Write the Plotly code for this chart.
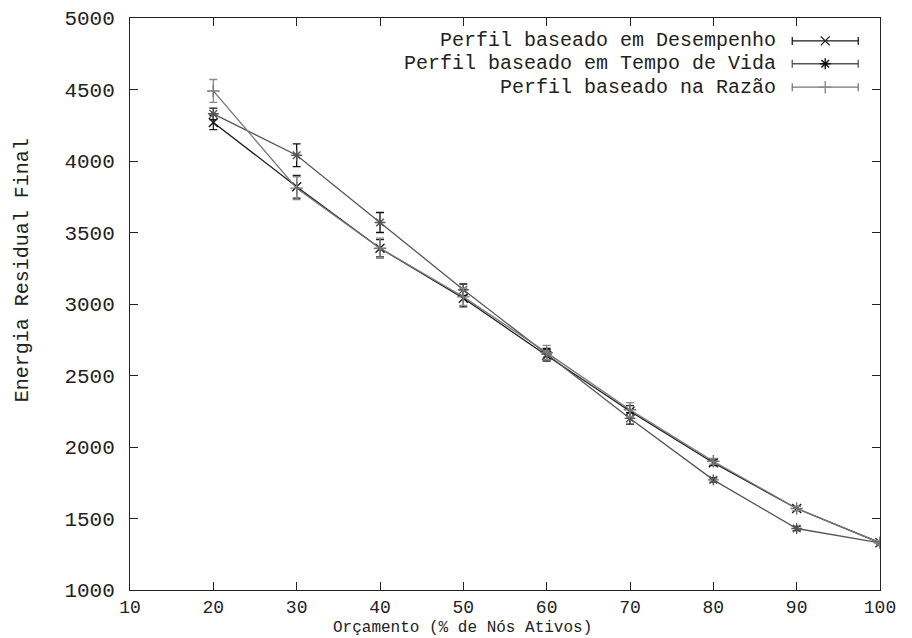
import plotly.graph_objects as go

# data
orcamento = [20, 30, 40, 50, 60, 70, 80, 90, 100]

desempenho = [4270, 3820, 3390, 3040, 2640, 2250, 1890, 1570, 1330]
desempenho_err = [50, 80, 60, 60, 40, 40, 20, 15, 15]

tempo_vida = [4330, 4040, 3570, 3100, 2650, 2200, 1770, 1430, 1330]
tempo_vida_err = [40, 80, 70, 40, 40, 40, 15, 15, 15]

razao = [4490, 3810, 3390, 3050, 2660, 2260, 1900, 1570, 1330]
razao_err = [80, 80, 70, 60, 50, 50, 20, 15, 15]

nomes = ['Perfil baseado em Desempenho',
         'Perfil baseado em Tempo de Vida',
         'Perfil baseado na Razão']

FONT = 'Liberation Mono'

series = [
    (nomes[0], desempenho, desempenho_err, 'x-thin-open', '#1a1a1a', '#222222'),
    (nomes[1], tempo_vida, tempo_vida_err, 'asterisk-open', '#555555', '#111111'),
    (nomes[2], razao, razao_err, 'cross-thin-open', '#777777', '#8a8a8a'),
]

fig = go.Figure()

for nome, ys, err, simb, cor_linha, cor_err in series:
    fig.add_trace(go.Scatter(
        x=orcamento, y=ys, name=nome, mode='lines+markers',
        line=dict(color=cor_linha, width=1.3),
        marker=dict(symbol=simb, size=9, line=dict(color=cor_err, width=1.4)),
        error_y=dict(type='data', array=err, color=cor_err, thickness=1.3, width=4),
        showlegend=False,
    ))

# gnuplot-like key: text right-aligned, sample to its right
key_y = [0.960, 0.920, 0.879]
for (nome, ys, err, simb, cor_linha, cor_err), ky in zip(series, key_y):
    fig.add_annotation(x=0.864, y=ky, xref='paper', yref='paper', text=nome,
                       showarrow=False, xanchor='right', yanchor='middle',
                       font=dict(family=FONT, size=20, color='#222'))
    fig.add_trace(go.Scatter(
        x=[0.927], y=[ky], xaxis='x2', yaxis='y2', mode='markers',
        marker=dict(symbol=simb, size=9, color=cor_err, line=dict(color=cor_err, width=1.4)),
        error_x=dict(type='constant', value=0.044, color=cor_linha, thickness=1.3, width=4),
        showlegend=False, hoverinfo='skip',
    ))

# axis titles placed like gnuplot does
fig.add_annotation(x=0.443, y=-0.066, xref='paper', yref='paper',
                   text='Orçamento (% de Nós Ativos)', showarrow=False,
                   xanchor='center', yanchor='middle',
                   font=dict(family=FONT, size=16, color='#222'))
fig.add_annotation(x=-0.144, y=0.559, xref='paper', yref='paper',
                   text='Energia Residual Final', showarrow=False, textangle=-90,
                   xanchor='center', yanchor='middle',
                   font=dict(family=FONT, size=20, color='#222'))

fig.update_layout(
    width=912, height=638,
    margin=dict(l=122, r=40, t=10, b=56),
    paper_bgcolor='white', plot_bgcolor='white',
    font=dict(family=FONT, size=20, color='#222'),
    xaxis=dict(
        range=[10, 100], dtick=10, tick0=10,
        showgrid=False, zeroline=False, automargin=False,
        showline=True, linecolor='#222', linewidth=1, mirror='ticks',
        ticks='inside', ticklen=8, tickcolor='#222',
        tickfont=dict(size=18),
    ),
    yaxis=dict(
        range=[1000, 5000], dtick=500, tick0=1000,
        showgrid=False, zeroline=False, automargin=False,
        showline=True, linecolor='#222', linewidth=1, mirror='ticks',
        ticks='inside', ticklen=8, tickcolor='#222',
        tickfont=dict(size=21), ticklabelstandoff=10,
    ),
    xaxis2=dict(overlaying='x', range=[0, 1], visible=False),
    yaxis2=dict(overlaying='y', range=[0, 1], visible=False),
)

fig.write_html('out.html')
